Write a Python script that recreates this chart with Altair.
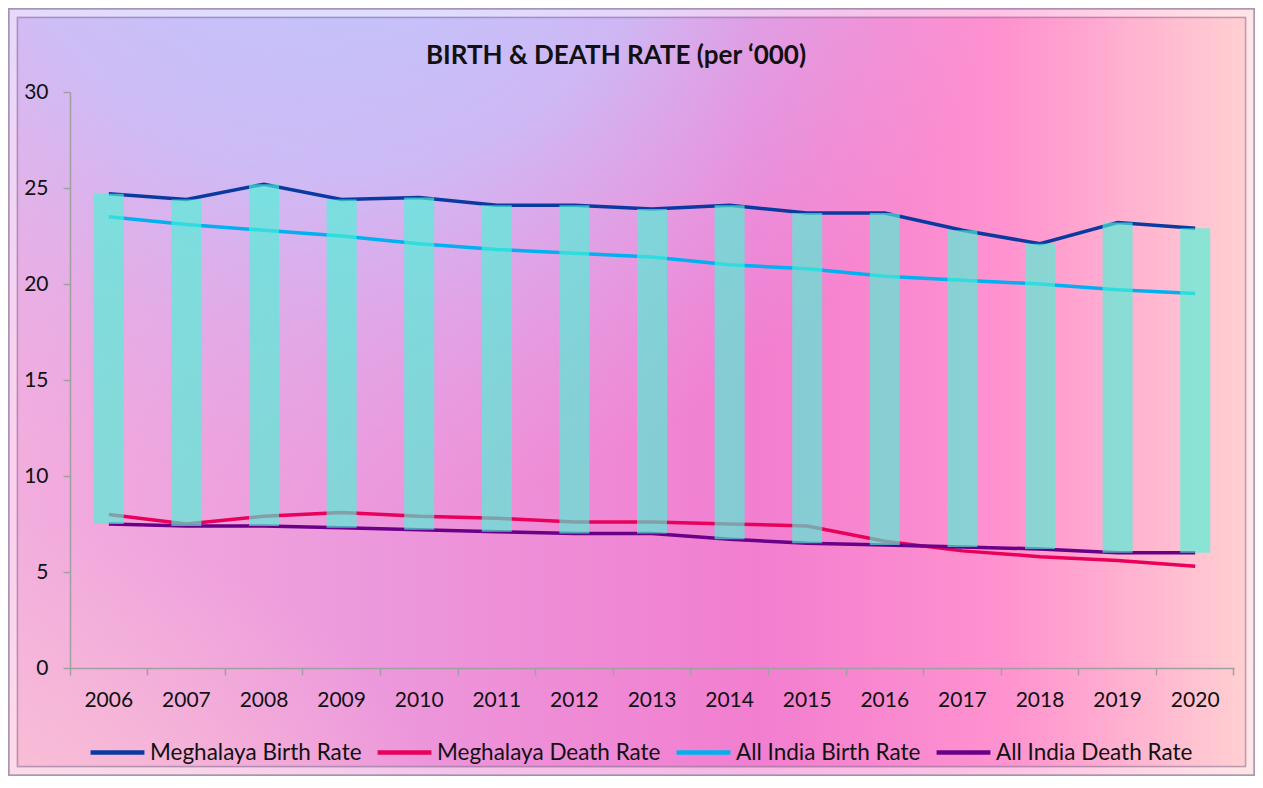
import altair as alt
import pandas as pd

years = ["2006", "2007", "2008", "2009", "2010", "2011", "2012", "2013",
         "2014", "2015", "2016", "2017", "2018", "2019", "2020"]
meghalaya_birth = [24.7, 24.4, 25.2, 24.4, 24.5, 24.1, 24.1, 23.9, 24.1, 23.7, 23.7, 22.8, 22.1, 23.2, 22.9]
meghalaya_death = [8.0, 7.5, 7.9, 8.1, 7.9, 7.8, 7.6, 7.6, 7.5, 7.4, 6.6, 6.1, 5.8, 5.6, 5.3]
india_birth = [23.5, 23.1, 22.8, 22.5, 22.1, 21.8, 21.6, 21.4, 21.0, 20.8, 20.4, 20.2, 20.0, 19.7, 19.5]
india_death = [7.5, 7.4, 7.4, 7.3, 7.2, 7.1, 7.0, 7.0, 6.7, 6.5, 6.4, 6.3, 6.2, 6.0, 6.0]

series_names = ["Meghalaya Birth Rate", "Meghalaya Death Rate",
                "All India Birth Rate", "All India Death Rate"]
series_colors = ["#0a3aa0", "#e8005a", "#00b0f0", "#6a0088"]
title_text = "BIRTH & DEATH RATE (per \u2018000)"

wide = pd.DataFrame({
    "Year": years,
    "Meghalaya Birth Rate": meghalaya_birth,
    "Meghalaya Death Rate": meghalaya_death,
    "All India Birth Rate": india_birth,
    "All India Death Rate": india_death,
})
long = wide.melt(id_vars="Year", var_name="Series", value_name="Rate")

W, H = 1164, 576
PL, PT, PR, PB = 62, 84, 21, 108
FONT = "Lato"

xscale = alt.Scale(domain=years, paddingInner=0, paddingOuter=0)
yscale = alt.Scale(domain=[0, 30])

one = pd.DataFrame({"k": [0]})

def full_rect(fill, opacity=1.0):
    return alt.Chart(one).mark_rect(fill=fill, opacity=opacity).encode(
        x=alt.value(-PL), x2=alt.value(W + PR), y=alt.value(-PT), y2=alt.value(H + PB)
    )

bg_base = full_rect(alt.LinearGradient(
    gradient="linear", x1=0, y1=0.5, x2=1, y2=0.5,
    stops=[
        alt.GradientStop(color="#f2aede", offset=0),
        alt.GradientStop(color="#ec98dc", offset=0.3),
        alt.GradientStop(color="#f27ed0", offset=0.6),
        alt.GradientStop(color="#ff92cf", offset=0.8),
        alt.GradientStop(color="#ffd2d2", offset=1),
    ]))
bg_blue = full_rect(alt.RadialGradient(
    gradient="radial", x1=0.26, y1=0.05, r1=0, x2=0.26, y2=0.05, r2=0.55,
    stops=[
        alt.GradientStop(color="rgba(188,202,255,1)", offset=0),
        alt.GradientStop(color="rgba(200,192,250,0.85)", offset=0.5),
        alt.GradientStop(color="rgba(225,170,235,0)", offset=1),
    ]))
bg_peach = full_rect(alt.RadialGradient(
    gradient="radial", x1=0.0, y1=1.0, r1=0, x2=0.0, y2=1.0, r2=0.4,
    stops=[
        alt.GradientStop(color="rgba(255,214,200,1)", offset=0),
        alt.GradientStop(color="rgba(255,205,205,0.6)", offset=0.4),
        alt.GradientStop(color="rgba(255,200,210,0)", offset=1),
    ]))

def frame(inset, stroke, width, opacity):
    return alt.Chart(one).mark_rect(fill=None, stroke=stroke, strokeWidth=width,
                                    strokeOpacity=opacity).encode(
        x=alt.value(-PL + inset), x2=alt.value(W + PR - inset),
        y=alt.value(-PT + inset), y2=alt.value(H + PB - inset)
    )

frames = [
    frame(1, "#9a8aa8", 2, 0.8),
    frame(5, "#ffffff", 7, 0.45),
    frame(9.5, "#8a7a98", 1.5, 0.6),
]

title = alt.Chart(one).mark_text(
    font=FONT, fontSize=26, fontWeight="bold", color="#111111",
    align="center", baseline="alphabetic"
).encode(x=alt.value(W / 2 - 36), y=alt.value(-28), text=alt.value(title_text))

lines = alt.Chart(long).mark_line(strokeWidth=3.5).encode(
    x=alt.X("Year:N", scale=xscale, sort=years,
            axis=alt.Axis(title=None, labelAngle=0, bandPosition=1, tickExtra=True,
                          tickSize=7, labelPadding=14, labelFontSize=21,
                          labelFont=FONT, labelColor="#111111",
                          domainColor="#a0a0a0", tickColor="#a0a0a0",
                          domainWidth=1.5, tickWidth=1.5, zindex=2)),
    y=alt.Y("Rate:Q", scale=yscale,
            axis=alt.Axis(title=None, values=[0, 5, 10, 15, 20, 25, 30], grid=False,
                          tickSize=7, labelPadding=15, labelFontSize=21,
                          labelFont=FONT, labelColor="#111111",
                          domainColor="#a0a0a0", tickColor="#a0a0a0",
                          domainWidth=1.5, tickWidth=1.5, zindex=2)),
    color=alt.Color("Series:N",
                    scale=alt.Scale(domain=series_names, range=series_colors),
                    sort=series_names,
                    legend=alt.Legend(title=None, orient="none", legendX=18, legendY=631,
                                      direction="horizontal", columns=4,
                                      symbolType="stroke", symbolSize=2900,
                                      symbolStrokeWidth=4.5, labelFontSize=22.5,
                                      labelFont=FONT, labelColor="#111111",
                                      columnPadding=6, labelOffset=3,
                                      labelLimit=400, padding=0, zindex=2)),
    order=alt.Order("Year:N"),
)

bars = alt.Chart(wide).mark_bar(size=30, color="#4cf5d5", opacity=0.65).encode(
    x=alt.X("Year:N", scale=xscale, sort=years),
    y=alt.Y("Meghalaya Birth Rate:Q", scale=yscale),
    y2=alt.Y2("All India Death Rate:Q"),
)

chart = alt.layer(bg_base, bg_blue, bg_peach, *frames, lines, bars, title).properties(
    width=W, height=H,
    padding={"left": PL, "top": PT, "right": PR, "bottom": PB},
    autosize=alt.AutoSizeParams(type="none"),
).configure_view(stroke=None).configure(background="#ffffff")

chart.save("out.html", embed_options={"renderer": "svg", "actions": False})
